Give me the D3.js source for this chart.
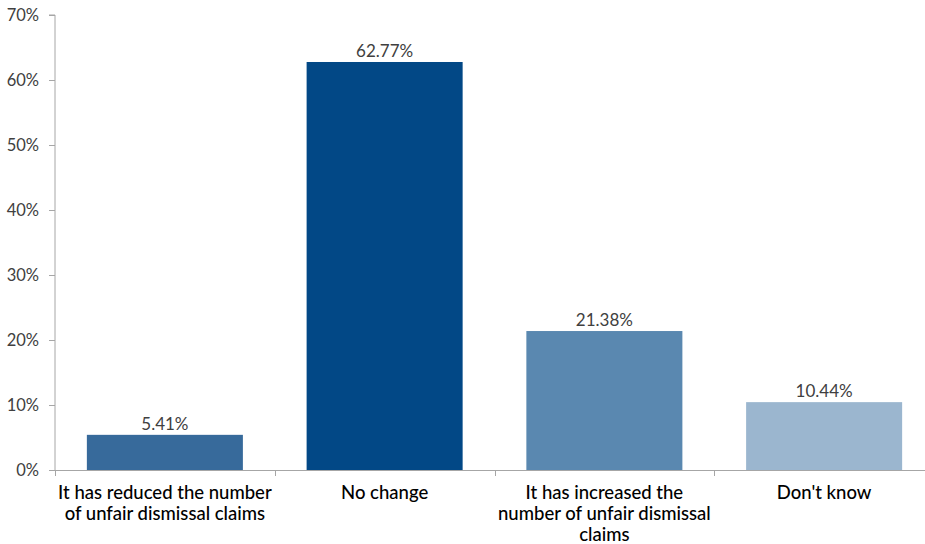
<!DOCTYPE html>
<html><head><meta charset="utf-8">
<script src="https://cdn.jsdelivr.net/npm/d3@7"></script>
<style>body{margin:0;background:#fff;} svg{display:block;}</style>
</head><body>
<svg id="c" width="925" height="544"></svg>
<script>
const categories = [
  ["It has reduced the number", "of unfair dismissal claims"],
  ["No change"],
  ["It has increased the", "number of unfair dismissal", "claims"]
  , ["Don't know"]
];
const values = [5.41, 62.77, 21.38, 10.44];
const colors = ["#376a9b", "#024886", "#5a88b0", "#9bb6cf"];
const yTicks = [0, 10, 20, 30, 40, 50, 60, 70];

const svg = d3.select("#c");
const font = "Lato, 'Open Sans', sans-serif";
const x = d3.scaleBand().domain(d3.range(values.length)).range([55, 934]).paddingInner(0.29).paddingOuter(0.145);
const y = d3.scaleLinear().domain([0, 70]).range([470, 15]);

// y axis
const ya = svg.append("g").attr("transform", "translate(55,0)")
  .call(d3.axisLeft(y).tickValues(yTicks).tickFormat(d => d + "%").tickSize(6).tickPadding(10));
ya.select(".domain").attr("stroke", "#a6a6a6").attr("d", "M-6,15H0V470");
ya.selectAll(".tick line").attr("stroke", "#a6a6a6");
ya.selectAll(".tick text").attr("font-family", font).attr("font-size", 16.5).attr("fill", "#404040");

// bars
svg.selectAll("rect.bar").data(values).join("rect")
  .attr("x", (d, i) => x(i)).attr("width", x.bandwidth())
  .attr("y", d => y(d)).attr("height", d => y(0) - y(d))
  .attr("fill", (d, i) => colors[i]);

// value labels
svg.selectAll("text.val").data(values).join("text")
  .attr("x", (d, i) => x(i) + x.bandwidth() / 2).attr("y", d => y(d) - 5)
  .attr("text-anchor", "middle").attr("font-family", font).attr("font-size", 17).attr("fill", "#404040")
  .text(d => d.toFixed(2) + "%");

// x axis
const step = x.step();
const xa = svg.append("g");
xa.append("line").attr("x1", 55).attr("x2", 934).attr("y1", 470.5).attr("y2", 470.5).attr("stroke", "#a6a6a6");
xa.selectAll("line.t").data(d3.range(values.length)).join("line")
  .attr("x1", i => Math.round(55 + i * step) + 0.5).attr("x2", i => Math.round(55 + i * step) + 0.5)
  .attr("y1", 470).attr("y2", 476).attr("stroke", "#a6a6a6");

const lab = svg.selectAll("text.cat").data(categories).join("text")
  .attr("text-anchor", "middle").attr("font-family", font).attr("font-size", 18.5).attr("font-weight", 500).attr("fill", "#000")
  .attr("x", (d, i) => x(i) + x.bandwidth() / 2).attr("y", 499);
lab.selectAll("tspan").data(d => d).join("tspan")
  .attr("x", function() { return this.parentNode.getAttribute("x"); })
  .attr("dy", (d, j) => j === 0 ? 0 : 21)
  .text(d => d);
</script>
</body></html>
